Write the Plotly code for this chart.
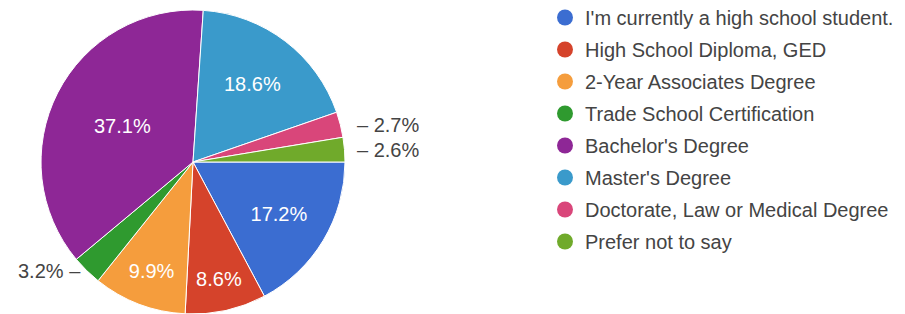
import math
import plotly.graph_objects as go

labels = [
    "I'm currently a high school student.",
    "High School Diploma, GED",
    "2-Year Associates Degree",
    "Trade School Certification",
    "Bachelor's Degree",
    "Master's Degree",
    "Doctorate, Law or Medical Degree",
    "Prefer not to say",
]
values = [17.2, 8.6, 9.9, 3.2, 37.1, 18.6, 2.7, 2.6]
colors = ["#3b6dd1", "#d5432b", "#f59d3d", "#2f9a2f", "#8e2796", "#3a9acb", "#d9467a", "#70aa2b"]

W, H = 905, 314
OFF = 8  # page body margin offset
CX, CY, R = 193 - OFF, 162 - OFF, 152  # pie centre / radius in px (figure coords)
FONT = "Arial, 'Liberation Sans', Helvetica, sans-serif"
SMALL = 5  # slices below this get an outside label

fig = go.Figure()

fig.add_trace(go.Pie(
    labels=labels,
    values=values,
    sort=False,
    direction="clockwise",
    rotation=90,
    marker=dict(colors=colors, line=dict(color="white", width=1)),
    text=[f"{v}%" for v in values],
    textinfo="text",
    textposition=["inside" if v > SMALL else "none" for v in values],
    insidetextorientation="horizontal",
    insidetextfont=dict(color="white", size=20, family=FONT),
    domain=dict(x=[(CX - R) / W, (CX + R) / W],
                y=[1 - (CY + R) / H, 1 - (CY - R) / H]),
    showlegend=False,
    hoverinfo="label+percent",
))

# legend entries with circular markers
for lab, col in zip(labels, colors):
    fig.add_trace(go.Scatter(
        x=[None], y=[None], mode="markers", name=lab, legendgroup=lab,
        marker=dict(color=col, size=16, symbol="circle"),
        showlegend=True, hoverinfo="skip",
    ))

# outside labels for small slices
total = sum(values)
cum = 0.0
annotations = []
for v in values:
    mid = math.radians(90 + 360 * (cum + v / 2) / total)
    cum += v
    if v > SMALL:
        continue
    ex = CX + R * math.sin(mid)
    ey = CY - R * math.cos(mid)
    if math.sin(mid) > 0:
        x, anchor, txt = CX + R + 10, "left", f"\u2013 {v}%"
    else:
        x, anchor, txt = ex - 4, "right", f"{v}% \u2013"
    annotations.append(dict(
        x=x / W, y=1 - ey / H, xref="paper", yref="paper",
        text=txt, showarrow=False, xanchor=anchor, yanchor="middle",
        font=dict(size=20, color="#444444", family=FONT),
    ))

fig.update_layout(
    width=W, height=H,
    margin=dict(l=0, r=0, t=0, b=0, autoexpand=False),
    paper_bgcolor="white", plot_bgcolor="white",
    xaxis=dict(visible=False), yaxis=dict(visible=False),
    annotations=annotations,
    legend=dict(
        x=(545 - OFF) / W, y=1 + 10 / H, xanchor="left", yanchor="top",
        font=dict(size=20, color="#444444", family=FONT),
        tracegroupgap=3, bgcolor="rgba(0,0,0,0)", maxheight=400,
    ),
    font=dict(family=FONT),
)

fig.write_html("out.html")
